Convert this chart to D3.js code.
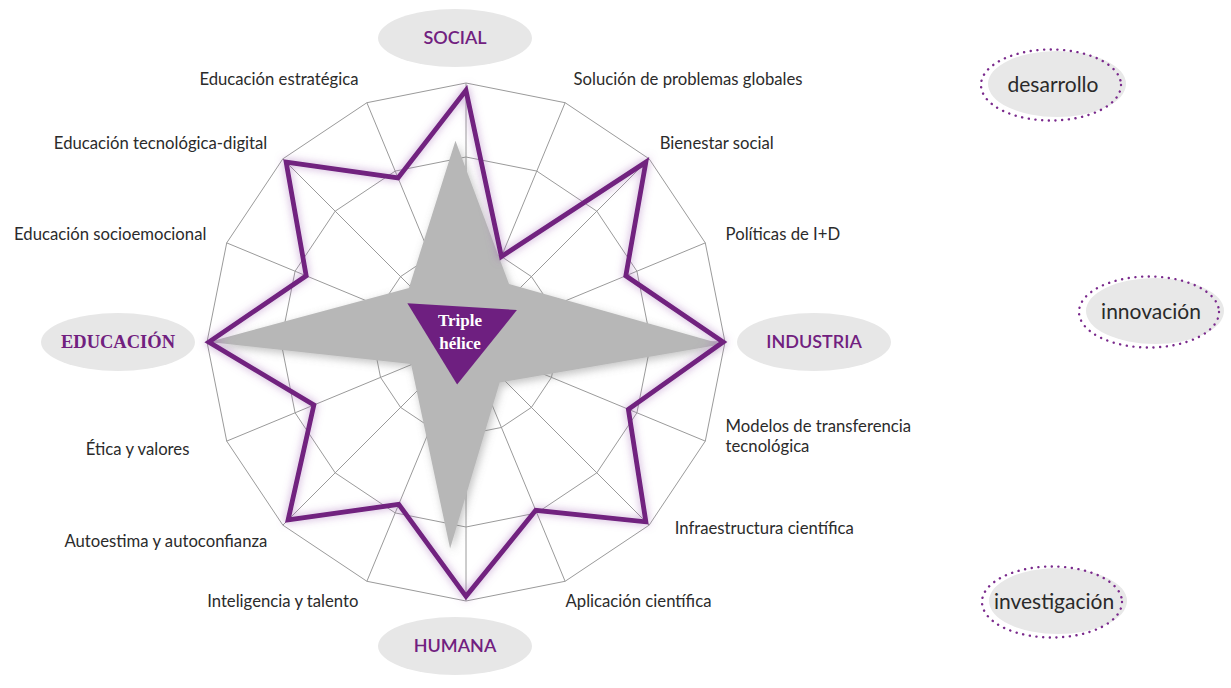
<!DOCTYPE html>
<html>
<head>
<meta charset="utf-8">
<script src="https://cdn.jsdelivr.net/npm/d3@7"></script>
<style>
  body { margin: 0; background: #fff; }
  svg { display: block; }
</style>
</head>
<body>
<div id="viz"></div>
<script>
const width = 1231;
const height = 688;
const center = {x: 466, y: 342};
const radius = 259; // outer ring of the web

// the 16 spokes, clockwise from the top
const axes = [
  'SOCIAL', 'Solución de problemas globales', 'Bienestar social', 'Políticas de I+D',
  'INDUSTRIA', 'Modelos de transferencia tecnológica', 'Infraestructura científica', 'Aplicación científica',
  'HUMANA', 'Inteligencia y talento', 'Autoestima y autoconfianza', 'Ética y valores',
  'EDUCACIÓN', 'Educación socioemocional', 'Educación tecnológica-digital', 'Educación estratégica'
];
const helices = ['SOCIAL', 'INDUSTRIA', 'HUMANA', 'EDUCACIÓN'];
const ringLevels = [1, 2, 2.8];
const maxLevel = 2.8;

// purple series
const scores = [2.72, 1.0, 2.75, 1.87, 2.78, 1.9, 2.75, 1.97, 2.75, 1.9, 2.72, 1.78, 2.78, 1.87, 2.75, 1.92];

// gray four-point star (angle in degrees, value)
const starAngles = [357, 36.6, 90.5, 140.3, 184.4, 248.2, 270, 313.5];
const starValues = [2.18, 0.78, 2.77, 0.57, 2.24, 0.64, 2.78, 0.85];

// centre triangle
const triAngles = [303.5, 57.9, 191.8];
const triValues = [0.76, 0.65, 0.47];
const centreLines = ['Triple', 'hélice'];

const sideTerms = ['desarrollo', 'innovación', 'investigación'];

const purple = '#71207f';

const svg = d3.select('#viz')
  .append('svg')
    .attr('width', width)
    .attr('height', height);

const defs = svg.append('defs');
const glow = defs.append('filter').attr('id', 'glow')
  .attr('x', '-20%').attr('y', '-20%').attr('width', '140%').attr('height', '140%');
glow.append('feGaussianBlur').attr('in', 'SourceAlpha').attr('stdDeviation', 4.5).attr('result', 'blur');
glow.append('feFlood').attr('flood-color', '#9a5cb0').attr('flood-opacity', 0.6);
glow.append('feComposite').attr('in2', 'blur').attr('operator', 'in').attr('result', 'halo');
const gm = glow.append('feMerge');
gm.append('feMergeNode').attr('in', 'halo');
gm.append('feMergeNode').attr('in', 'SourceGraphic');

const shadow = defs.append('filter').attr('id', 'shadow')
  .attr('x', '-20%').attr('y', '-20%').attr('width', '140%').attr('height', '140%');
shadow.append('feDropShadow').attr('dx', 2).attr('dy', 3).attr('stdDeviation', 4)
  .attr('flood-color', '#777').attr('flood-opacity', 0.45);

const r = d3.scaleLinear().domain([0, maxLevel]).range([0, radius]);
const angle = d3.scaleLinear().domain([0, axes.length]).range([0, 2 * Math.PI]);
const deg = d3.scaleLinear().domain([0, 360]).range([0, 2 * Math.PI]);

const g = svg.append('g').attr('transform', `translate(${center.x},${center.y})`);

// web: rings and spokes
const ringLine = d3.lineRadial().curve(d3.curveLinearClosed);
g.selectAll('.ring')
  .data(ringLevels)
  .join('path')
    .attr('class', 'ring')
    .attr('d', lv => ringLine(axes.map((a, i) => [angle(i), r(lv)])))
    .attr('fill', 'none')
    .attr('stroke', '#9a9a9a')
    .attr('stroke-width', 1);

g.selectAll('.spoke')
  .data(axes)
  .join('line')
    .attr('class', 'spoke')
    .attr('x1', 0).attr('y1', 0)
    .attr('x2', (d, i) => d3.pointRadial(angle(i), radius)[0])
    .attr('y2', (d, i) => d3.pointRadial(angle(i), radius)[1])
    .attr('stroke', '#9a9a9a')
    .attr('stroke-width', 1);

// gray star
g.append('path')
  .datum(starAngles.map((a, i) => [deg(a), r(starValues[i])]))
  .attr('d', ringLine)
  .attr('fill', '#b7b7b7')
  .attr('filter', 'url(#shadow)');

// purple series
g.append('path')
  .datum(scores.map((v, i) => [angle(i), r(v)]))
  .attr('d', ringLine)
  .attr('fill', 'none')
  .attr('stroke', purple)
  .attr('stroke-width', 4.8)
  .attr('stroke-linejoin', 'miter')
  .attr('filter', 'url(#glow)');

// centre triangle
g.append('path')
  .datum(triAngles.map((a, i) => [deg(a), r(triValues[i])]))
  .attr('d', ringLine)
  .attr('fill', '#6e1f80');

g.selectAll('.centre')
  .data(centreLines)
  .join('text')
    .attr('class', 'centre')
    .attr('x', -6)
    .attr('y', (d, i) => -22 + i * 23)
    .attr('dy', '0.35em')
    .attr('text-anchor', 'middle')
    .style('font-family', '"Liberation Serif", "Times New Roman", serif')
    .style('font-weight', 'bold')
    .style('font-size', '17px')
    .attr('fill', '#fff')
    .text(d => d);

// spoke labels, with small hand nudges where the original sits off the circle
const labelRadius = radius + 22;
const nudge = {
  'Solución de problemas globales': [0, -3],
  'Educación estratégica': [0, -3],
  'Bienestar social': [-5, 0],
  'Modelos de transferencia tecnológica': [0, -13],
  'Infraestructura científica': [10, -13],
  'Aplicación científica': [-8, 0],
  'Ética y valores': [-17, 0]
};
axes.forEach((name, i) => {
  if (helices.includes(name)) return;
  const a = angle(i);
  let [x, y] = d3.pointRadial(a, labelRadius);
  const [nx, ny] = nudge[name] || [0, 0];
  x += nx; y += ny;
  const right = a < Math.PI;
  const words = name === 'Modelos de transferencia tecnológica'
    ? ['Modelos de transferencia', 'tecnológica'] : [name];
  const t = g.append('text')
    .attr('x', x)
    .attr('y', y - (words.length - 1) * 10)
    .attr('text-anchor', right ? 'start' : 'end')
    .style('font-family', 'Lato, "Open Sans", sans-serif')
    .style('font-size', '16.7px')
    .attr('fill', '#2b2b2b');
  words.forEach((w, k) => {
    t.append('tspan').attr('x', x).attr('dy', k === 0 ? '0.35em' : '1.2em').text(w);
  });
});

// helix labels in gray ellipses
helices.forEach(name => {
  const i = axes.indexOf(name);
  const a = angle(i);
  const vertical = Math.abs(Math.sin(a)) < 0.5;
  const rx = 77, ry = 29;
  let [x, y] = d3.pointRadial(a, radius + (vertical ? 16 + ry : 12 + rx));
  if (vertical) x -= 11;
  g.append('ellipse')
    .attr('cx', x).attr('cy', y)
    .attr('rx', rx).attr('ry', ry)
    .attr('fill', '#e7e7e7');
  const serif = name === 'EDUCACIÓN';
  g.append('text')
    .attr('x', x).attr('y', y)
    .attr('dy', '0.35em')
    .attr('text-anchor', 'middle')
    .style('font-family', serif ? '"Liberation Serif", serif' : 'Lato, sans-serif')
    .style('font-weight', serif ? 'bold' : 600)
    .style('font-size', serif ? '18.5px' : '18px')
    .attr('fill', purple)
    .text(name);
});

// dotted side notes
const sideSpots = [[1053, 85], [1151, 312], [1054, 602]];
const side = svg.selectAll('.side')
  .data(sideTerms)
  .join('g')
    .attr('class', 'side')
    .attr('transform', (d, i) => `translate(${sideSpots[i][0]},${sideSpots[i][1]})`);

side.append('ellipse')
  .attr('cx', 4).attr('cy', -1)
  .attr('rx', 69).attr('ry', 33)
  .attr('fill', '#e8e8e8');
side.append('ellipse')
  .attr('cx', -2).attr('cy', 0)
  .attr('rx', 70).attr('ry', 35.5)
  .attr('fill', 'none')
  .attr('stroke', '#7a2a8c')
  .attr('stroke-width', 2.4)
  .attr('stroke-linecap', 'round')
  .attr('stroke-dasharray', '0.1 6.6');
side.append('text')
  .attr('x', 0).attr('y', 0)
  .attr('dy', '0.35em')
  .attr('text-anchor', 'middle')
  .style('font-family', 'Lato, sans-serif')
  .style('font-size', '21px')
  .attr('fill', '#2a2a2a')
  .text(d => d);
</script>
</body>
</html>
